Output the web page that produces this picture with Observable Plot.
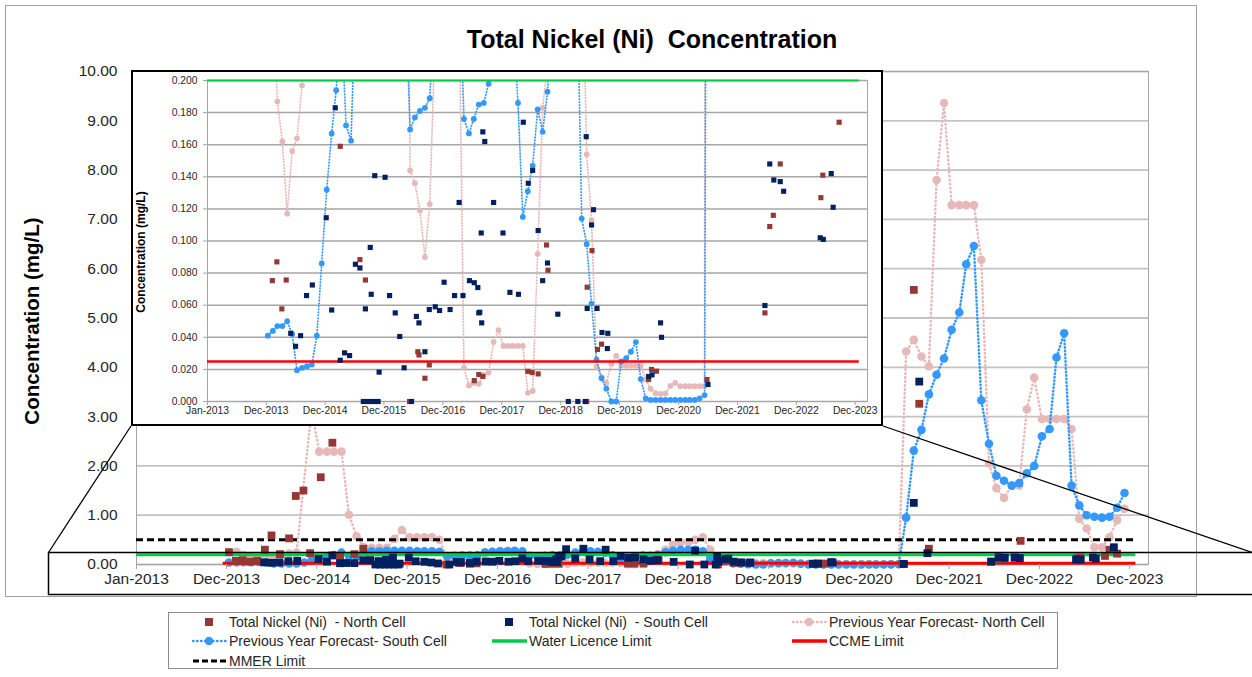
<!DOCTYPE html>
<html>
<head>
<meta charset="utf-8">
<script src="https://cdn.jsdelivr.net/npm/d3@7"></script>
<script src="https://cdn.jsdelivr.net/npm/@observablehq/plot@0.6"></script>
<style>
  html, body { margin: 0; padding: 0; background: #fff; overflow: hidden; }
  #wrap { position: relative; width: 1252px; height: 677px; overflow: hidden; font-family: "Liberation Sans", Arial, sans-serif; }
  #main { position: absolute; left: 0; top: 0; }
  #title { position: absolute; left: 0; width: 1304px; top: 25px; text-align: center; font-weight: bold; font-size: 25px; color: #000; white-space: pre; }
  #ytitle { position: absolute; left: 32px; top: 321px; transform: translate(-50%, -50%) rotate(-90deg); font-weight: bold; font-size: 20.5px; white-space: nowrap; color: #000; }
  #inset { position: absolute; left: 131px; top: 70px; width: 752px; height: 356px; box-sizing: border-box; border: 2px solid #000; background: #fff; }
  #insetplot { position: absolute; left: 0; top: 0; }
  #insetytitle { position: absolute; left: 8px; top: 180px; transform: translate(-50%, -50%) rotate(-90deg); font-weight: bold; font-size: 12px; white-space: nowrap; color: #000; }
  #overlay { position: absolute; left: 0; top: 0; pointer-events: none; }
  #legend { position: absolute; left: 168px; top: 612px; width: 890px; height: 57px; box-sizing: border-box; border: 1px solid #8c8c8c; background: #fff; }
  .li { position: absolute; height: 18px; display: flex; align-items: center; font-size: 14px; color: #262626; white-space: pre; }
  .li svg { margin-right: 2px; }
</style>
</head>
<body>
<div id="wrap">
  <div id="main"></div>
  <div id="title">Total Nickel (Ni)  Concentration</div>
  <div id="ytitle">Concentration (mg/L)</div>
  <div id="inset"><div id="insetplot"></div><div id="insetytitle">Concentration (mg/L)</div></div>
  <svg id="overlay" width="1252" height="677">
    <rect x="5.5" y="5.5" width="1191" height="591" fill="none" stroke="#a0a0a0" stroke-width="1"/>
    <rect x="48.5" y="552.5" width="1220" height="42" fill="none" stroke="#000" stroke-width="1.5"/>
    <line x1="131" y1="426" x2="48.5" y2="552.5" stroke="#000" stroke-width="1.3"/>
    <line x1="883" y1="426" x2="1252" y2="552.5" stroke="#000" stroke-width="1.3"/>
  </svg>
  <div id="legend"></div>
</div>
<script>
// ---------------- DATA ----------------
const xTickLabels = ["Jan-2013","Dec-2013","Dec-2014","Dec-2015","Dec-2016","Dec-2017","Dec-2018","Dec-2019","Dec-2020","Dec-2021","Dec-2022","Dec-2023"];
const mainYTickLabels = ["0.00","1.00","2.00","3.00","4.00","5.00","6.00","7.00","8.00","9.00","10.00"];
const insetYTickLabels = ["0.000","0.020","0.040","0.060","0.080","0.100","0.120","0.140","0.160","0.180","0.200"];

const waterLicenceLimit = 0.2;
const ccmeLimit = 0.025;
const mmerLimit = 0.5;

// Total Nickel (Ni) - North Cell (measured)
const northMeasured = [
  ["2014-01-10",0.25],["2014-02-07",0.0753],["2014-03-07",0.087],["2014-04-07",0.0577],["2014-05-04",0.0757],
  ["2014-06-04",0.30],["2014-07-01",0.59],["2014-08-04",0.21],["2014-09-10",0.53],["2014-10-07",1.39],
  ["2014-11-07",1.50],["2014-12-04",0.23],["2015-01-16",1.77],["2015-03-04",2.47],["2015-04-04",0.159],
  ["2015-06-01",0.21],["2015-07-07",0.32],["2015-08-04",0.0884],["2015-09-07",0.0757],
  ["2016-06-07",0.0],["2016-07-28",0.031],["2016-08-04",0.029],["2016-09-10",0.0145],["2016-10-07",0.0228],
  ["2017-07-13",0.013],["2017-08-10",0.0168],["2017-09-04",0.0156],
  ["2018-06-10",0.0188],["2018-07-07",0.018],["2018-08-13",0.0172],["2018-10-04",0.0975],["2018-10-13",0.0818],
  ["2019-06-10",0.0],["2019-06-13",0.0712],["2019-07-13",0.094],["2019-08-16",0.0324],["2019-09-10",0.0357],
  ["2020-06-28",0.0137],["2020-07-16",0.020],["2020-08-16",0.0189],
  ["2021-06-25",0.0137],["2021-08-10",5.57],["2021-09-01",3.26],["2021-10-10",0.32],
  ["2022-06-19",0.0552],["2022-07-19",0.109],["2022-08-10",0.116],["2022-09-22",0.148],["2022-10-16",0.48],
  ["2023-06-01",0.127],["2023-06-13",0.141],["2023-09-22",0.174],["2023-10-10",0.30],["2023-11-10",0.22]
];

// Total Nickel (Ni) - South Cell (measured)
const southMeasured = [
  ["2014-06-01",0.0425],["2014-07-01",0.0344],["2014-08-01",0.041],["2014-09-07",0.066],["2014-10-13",0.0726],
  ["2015-01-07",0.1145],["2015-02-10",0.057],["2015-03-04",0.183],["2015-04-04",0.0257],["2015-05-01",0.0303],
  ["2015-06-01",0.0286],["2015-07-07",0.0855],["2015-08-04",0.0832],["2015-08-25",0.0],["2015-09-07",0.0577],
  ["2015-09-13",0.0],["2015-10-01",0.0],["2015-10-07",0.096],["2015-10-13",0.0668],["2015-10-19",0.0],
  ["2015-11-04",0.1407],["2015-11-07",0.0],["2015-11-25",0.0],["2015-12-01",0.0183],
  ["2016-01-07",0.1397],["2016-02-04",0.066],["2016-03-10",0.0552],["2016-04-07",0.0405],["2016-05-04",0.021],
  ["2016-06-19",0.0],["2016-07-19",0.053],["2016-08-04",0.049],["2016-09-10",0.031],["2016-10-07",0.0573],
  ["2016-11-13",0.059],["2016-12-10",0.0567],
  ["2017-01-07",0.0743],["2017-02-13",0.0573],["2017-03-13",0.066],["2017-04-10",0.124],["2017-05-04",0.066],
  ["2017-06-13",0.0753],["2017-07-13",0.074],["2017-08-04",0.071],["2017-08-10",0.0552],["2017-08-16",0.0556],
  ["2017-08-25",0.105],["2017-08-28",0.049],["2017-09-04",0.168],["2017-09-16",0.162],["2017-10-04",0.31],
  ["2017-11-10",0.124],["2017-12-13",0.32],
  ["2018-01-07",0.105],["2018-02-19",0.068],["2018-03-13",0.30],["2018-04-13",0.0668],["2018-05-13",0.174],
  ["2018-06-13",0.136],["2018-07-10",0.144],["2018-08-13",0.1065],["2018-09-10",0.0753],["2018-10-10",0.0863],
  ["2018-12-13",0.0544],
  ["2019-02-16",0.0],["2019-03-10",0.28],["2019-04-16",0.0],["2019-06-01",0.0],["2019-06-07",0.165],
  ["2019-06-13",0.058],["2019-07-10",0.110],["2019-07-22",0.1195],["2019-08-13",0.058],["2019-09-13",0.043],
  ["2019-10-16",0.033],["2019-10-19",0.0425],
  ["2020-06-28",0.0156],["2020-07-19",0.0166],["2020-09-10",0.049],["2020-09-16",0.040],
  ["2021-07-01",0.0106],["2021-08-10",1.25],["2021-09-01",3.71],["2021-10-04",0.23],
  ["2022-06-19",0.0598],["2022-07-19",0.148],["2022-08-13",0.138],["2022-09-22",0.137],["2022-10-13",0.131],
  ["2023-05-28",0.102],["2023-06-16",0.101],["2023-08-04",0.142],["2023-08-16",0.121],["2023-10-28",0.35]
];

// Previous Year Forecast - North Cell (monthly)
const northForecast = [
  ["2014-01",0.25],["2014-02",0.26],["2014-03",0.187],["2014-04",0.162],["2014-05",0.117],["2014-06",0.156],
  ["2014-07",0.164],["2014-08",0.197],["2014-09",0.22],["2014-10",0.24],["2014-12",3.14],
  ["2015-01",2.29],["2015-02",2.29],["2015-03",2.29],["2015-04",2.29],["2015-05",1.01],["2015-06",0.57],
  ["2015-07",0.35],["2015-08",0.34],["2015-09",0.34],["2015-10",0.34],["2015-11",0.52],["2015-12",0.70],
  ["2016-01",0.55],["2016-02",0.55],["2016-03",0.55],["2016-04",0.55],["2016-05",0.50],["2016-06",0.144],
  ["2016-07",0.136],["2016-08",0.119],["2016-09",0.090],["2016-10",0.123],["2016-11",0.22],["2016-12",0.25],
  ["2017-01",0.27],["2017-02",0.28],["2017-03",0.27],["2017-04",0.25],["2017-05",0.021],["2017-06",0.010],
  ["2017-07",0.0116],["2017-08",0.011],["2017-09",0.0166],["2017-10",0.018],["2017-11",0.037],["2017-12",0.0445],
  ["2018-01",0.0346],["2018-02",0.0346],["2018-03",0.0346],["2018-04",0.0346],["2018-05",0.0346],["2018-06",0.0054],
  ["2018-07",0.0066],["2018-08",0.092],["2018-09",0.183],["2018-10",0.21],["2018-11",0.30],["2018-12",0.40],
  ["2019-01",0.45],["2019-02",0.45],["2019-03",0.50],["2019-04",0.55],["2019-05",0.30],["2019-06",0.154],
  ["2019-07",0.113],["2019-08",0.0217],["2019-09",0.0151],["2019-10",0.0116],["2019-11",0.0234],["2019-12",0.0284],
  ["2020-01",0.0222],["2020-02",0.0222],["2020-03",0.0222],["2020-04",0.0222],["2020-05",0.0222],["2020-06",0.0137],
  ["2020-07",0.0079],["2020-08",0.0052],["2020-09",0.0048],["2020-10",0.005],["2020-11",0.0097],["2020-12",0.0116],
  ["2021-01",0.0095],["2021-02",0.0095],["2021-03",0.0095],["2021-04",0.0095],["2021-05",0.0095],["2021-06",0.0095],
  ["2021-07",4.32],["2021-08",4.56],["2021-09",4.22],["2021-10",4.02],["2021-11",7.80],["2021-12",9.36],
  ["2022-01",7.29],["2022-02",7.29],["2022-03",7.29],["2022-04",7.29],["2022-05",6.18],["2022-06",2.05],
  ["2022-07",1.55],["2022-08",1.35],["2022-09",1.6],["2022-10",1.6],["2022-11",3.15],["2022-12",3.79],
  ["2023-01",2.95],["2023-02",2.95],["2023-03",2.95],["2023-04",2.95],["2023-05",2.75],["2023-06",0.93],
  ["2023-07",0.73],["2023-08",0.35],["2023-09",0.35],["2023-10",0.55],["2023-11",0.9],["2023-12",1.13]
];

// Previous Year Forecast - South Cell (monthly)
const southForecast = [
  ["2014-01",0.041],["2014-02",0.044],["2014-03",0.047],["2014-04",0.047],["2014-05",0.050],["2014-06",0.042],
  ["2014-07",0.0195],["2014-08",0.021],["2014-09",0.022],["2014-10",0.023],["2014-11",0.041],["2014-12",0.086],
  ["2015-01",0.132],["2015-02",0.167],["2015-03",0.194],["2015-04",0.24],["2015-05",0.172],["2015-06",0.1625],
  ["2015-07",0.26],["2015-08",0.27],["2015-09",0.27],["2015-10",0.28],["2015-11",0.28],["2015-12",0.28],
  ["2016-01",0.28],["2016-02",0.27],["2016-03",0.27],["2016-04",0.27],["2016-05",0.26],["2016-06",0.1695],
  ["2016-07",0.177],["2016-08",0.181],["2016-09",0.183],["2016-10",0.189],["2016-11",0.25],["2016-12",0.26],
  ["2017-01",0.27],["2017-02",0.27],["2017-03",0.28],["2017-04",0.27],["2017-05",0.176],["2017-06",0.167],
  ["2017-07",0.176],["2017-08",0.185],["2017-09",0.186],["2017-10",0.198],["2017-11",0.24],["2017-12",0.26],
  ["2018-01",0.27],["2018-02",0.26],["2018-03",0.24],["2018-04",0.186],["2018-05",0.115],["2018-06",0.131],
  ["2018-07",0.147],["2018-08",0.182],["2018-09",0.168],["2018-10",0.193],["2018-11",0.25],["2018-12",0.28],
  ["2019-01",0.30],["2019-02",0.30],["2019-03",0.30],["2019-04",0.27],["2019-05",0.114],["2019-06",0.098],
  ["2019-07",0.061],["2019-08",0.026],["2019-09",0.0145],["2019-10",0.008],["2019-11",0.0],["2019-12",0.0],
  ["2020-01",0.025],["2020-02",0.027],["2020-03",0.031],["2020-04",0.037],["2020-05",0.014],["2020-06",0.002],
  ["2020-07",0.001],["2020-08",0.001],["2020-09",0.001],["2020-10",0.001],["2020-11",0.001],["2020-12",0.001],
  ["2021-01",0.001],["2021-02",0.001],["2021-03",0.001],["2021-04",0.001],["2021-05",0.002],["2021-06",0.004],
  ["2021-07",0.95],["2021-08",2.31],["2021-09",2.73],["2021-10",3.45],["2021-11",3.85],["2021-12",4.18],
  ["2022-01",4.76],["2022-02",5.11],["2022-03",6.09],["2022-04",6.46],["2022-05",3.33],["2022-06",2.45],
  ["2022-07",1.80],["2022-08",1.70],["2022-09",1.60],["2022-10",1.65],["2022-11",1.85],["2022-12",2.0],
  ["2023-01",2.6],["2023-02",2.75],["2023-03",4.20],["2023-04",4.69],["2023-05",1.6],["2023-06",1.2],
  ["2023-07",1.0],["2023-08",0.97],["2023-09",0.95],["2023-10",0.97],["2023-11",1.15],["2023-12",1.45]
];

// ---------------- HELPERS ----------------
const parseDate = s => { const p = s.split("-").map(Number); return new Date(Date.UTC(p[0], p[1] - 1, p[2] || 10)); };
const rows = arr => arr.map(([d, v]) => ({date: parseDate(d), value: v}));
const NM = rows(northMeasured), SM = rows(southMeasured), NF = rows(northForecast), SF = rows(southForecast);

const X_DOMAIN = [new Date(Date.UTC(2013, 0, 1)), new Date(Date.UTC(2024, 2, 16))];
const xTicks = xTickLabels.map((lab, i) => i === 0 ? new Date(Date.UTC(2013, 0, 1)) : new Date(Date.UTC(+lab.slice(4), 11, 31)));
const xLabelOf = new Map(xTicks.map((d, i) => [+d, xTickLabels[i]]));
const mainYTicks = mainYTickLabels.map(Number);
const insetYTicks = insetYTickLabels.map(Number);

const FONT = '"Liberation Sans", Arial, sans-serif';
const C = {north: "#953735", south: "#002060", northF: "#e6b9b8", southF: "#3399ff", water: "#00cc4a", ccme: "#ff0000", mmer: "#000000"};
const limitStart = new Date(Date.UTC(2013, 0, 1));
const limitEnd = new Date(Date.UTC(2024, 0, 25));
const ccmeMainStart = new Date(Date.UTC(2013, 11, 17));

// ---------------- MAIN CHART ----------------
const main = Plot.plot({
  width: 1252, height: 600,
  marginLeft: 136, marginRight: 104, marginTop: 71, marginBottom: 36,
  style: {fontFamily: FONT, fontSize: "15.5px", color: "#262626", background: "transparent", overflow: "visible"},
  x: {type: "utc", domain: X_DOMAIN, axis: null},
  y: {domain: [0, 10], axis: null},
  marks: [
    Plot.gridY(mainYTicks, {stroke: "#c3c3c3", strokeWidth: 1.8, strokeOpacity: 1}),
    Plot.frame({stroke: "#a6a6a6", strokeWidth: 1}),
    Plot.line(NF, {x: "date", y: "value", stroke: C.northF, strokeWidth: 2.5, strokeDasharray: "0.5,3.5", strokeLinecap: "round"}),
    Plot.dot(NF, {x: "date", y: "value", r: 4.3, fill: C.northF, stroke: "none"}),
    Plot.line(SF, {x: "date", y: "value", stroke: C.southF, strokeWidth: 2.5, strokeDasharray: "0.5,3", strokeLinecap: "round"}),
    Plot.dot(SF, {x: "date", y: "value", r: 4.3, fill: C.southF, stroke: "none"}),
    Plot.ruleY([waterLicenceLimit], {x1: () => limitStart, x2: () => limitEnd, stroke: C.water, strokeWidth: 3}),
    Plot.ruleY([ccmeLimit], {x1: () => ccmeMainStart, x2: () => limitEnd, stroke: C.ccme, strokeWidth: 3}),
    Plot.ruleY([mmerLimit], {x1: () => limitStart, x2: () => limitEnd, stroke: C.mmer, strokeWidth: 3, strokeDasharray: "7,4"}),
    Plot.dot(NM, {x: "date", y: "value", symbol: "square", r: 4.4, fill: C.north, stroke: "none"}),
    Plot.dot(SM, {x: "date", y: "value", symbol: "square", r: 4.4, fill: C.south, stroke: "none"}),
    Plot.axisY({ticks: mainYTicks, tickSize: 0, tickPadding: 19, tickFormat: d => mainYTickLabels[mainYTicks.indexOf(d)], label: null, fill: "#262626"}),
    Plot.axisX({ticks: xTicks, tickSize: 5, tickPadding: 3, tickFormat: d => xLabelOf.get(+d), label: null, stroke: "#a6a6a6", fill: "#262626"})
  ]
});
document.getElementById("main").appendChild(main);

// ---------------- INSET (zoom 0 - 0.200) ----------------
const inBand = d => d.value <= 0.2001;
const inset = Plot.plot({
  width: 748, height: 352,
  marginLeft: 74, marginRight: 14, marginTop: 8, marginBottom: 23,
  style: {fontFamily: FONT, fontSize: "10.3px", color: "#262626", background: "#fff", overflow: "visible"},
  x: {type: "utc", domain: X_DOMAIN, axis: null},
  y: {domain: [0, 0.2], axis: null},
  marks: [
    Plot.gridY(insetYTicks, {stroke: "#a6a6a6", strokeWidth: 1.5, strokeOpacity: 1}),
    Plot.frame({stroke: "#a6a6a6", strokeWidth: 1}),
    Plot.line(NF, {x: "date", y: "value", stroke: C.northF, strokeWidth: 1.8, strokeDasharray: "0.5,2.5", strokeLinecap: "round", clip: true}),
    Plot.dot(NF.filter(inBand), {x: "date", y: "value", r: 2.9, fill: C.northF, stroke: "none"}),
    Plot.line(SF, {x: "date", y: "value", stroke: C.southF, strokeWidth: 1.8, strokeDasharray: "0.5,2.5", strokeLinecap: "round", clip: true}),
    Plot.dot(SF.filter(inBand), {x: "date", y: "value", r: 2.9, fill: C.southF, stroke: "none"}),
    Plot.ruleY([waterLicenceLimit], {x1: () => limitStart, x2: () => limitEnd, stroke: C.water, strokeWidth: 2}),
    Plot.ruleY([ccmeLimit], {x1: () => limitStart, x2: () => limitEnd, stroke: C.ccme, strokeWidth: 2.5}),
    Plot.dot(NM.filter(inBand), {x: "date", y: "value", symbol: "square", r: 2.9, fill: C.north, stroke: "none"}),
    Plot.dot(SM.filter(inBand), {x: "date", y: "value", symbol: "square", r: 2.9, fill: C.south, stroke: "none"}),
    Plot.axisY({ticks: insetYTicks, tickSize: 4, tickPadding: 6, tickFormat: d => insetYTickLabels[insetYTicks.indexOf(d)], label: null, stroke: "#a6a6a6", fill: "#262626"}),
    Plot.axisX({ticks: xTicks, tickSize: 4, tickPadding: 1, tickFormat: d => xLabelOf.get(+d), label: null, stroke: "#a6a6a6", fill: "#262626"})
  ]
});
document.getElementById("insetplot").appendChild(inset);

// ---------------- LEGEND ----------------
const legendItems = [
  {label: "Total Nickel (Ni)  - North Cell", kind: "square", color: C.north},
  {label: "Total Nickel (Ni)  - South Cell", kind: "square", color: C.south},
  {label: "Previous Year Forecast- North Cell", kind: "dotline", color: C.northF},
  {label: "Previous Year Forecast- South Cell", kind: "dotline", color: C.southF},
  {label: "Water Licence Limit", kind: "line", color: C.water},
  {label: "CCME Limit", kind: "line", color: C.ccme},
  {label: "MMER Limit", kind: "dash", color: C.mmer}
];
const colX = [23, 323, 623];
const rowY = [0, 19, 39];
const leg = document.getElementById("legend");
legendItems.forEach((it, i) => {
  const el = document.createElement("div");
  el.className = "li";
  el.style.left = colX[i % 3] + "px";
  el.style.top = rowY[Math.floor(i / 3)] + "px";
  let g = "";
  if (it.kind === "square") g = `<rect x="13" y="2" width="8" height="8" fill="${it.color}"/>`;
  if (it.kind === "dotline") g = `<line x1="1" y1="6" x2="34" y2="6" stroke="${it.color}" stroke-width="2.5" stroke-dasharray="0.5,3.5" stroke-linecap="round"/><circle cx="17" cy="6" r="4.3" fill="${it.color}"/>`;
  if (it.kind === "line") g = `<line x1="0" y1="6" x2="35" y2="6" stroke="${it.color}" stroke-width="3.5"/>`;
  if (it.kind === "dash") g = `<line x1="1" y1="6" x2="35" y2="6" stroke="${it.color}" stroke-width="3" stroke-dasharray="6,3"/>`;
  el.innerHTML = `<svg width="35" height="12">${g}</svg><span>${it.label}</span>`;
  leg.appendChild(el);
});
</script>
</body>
</html>
